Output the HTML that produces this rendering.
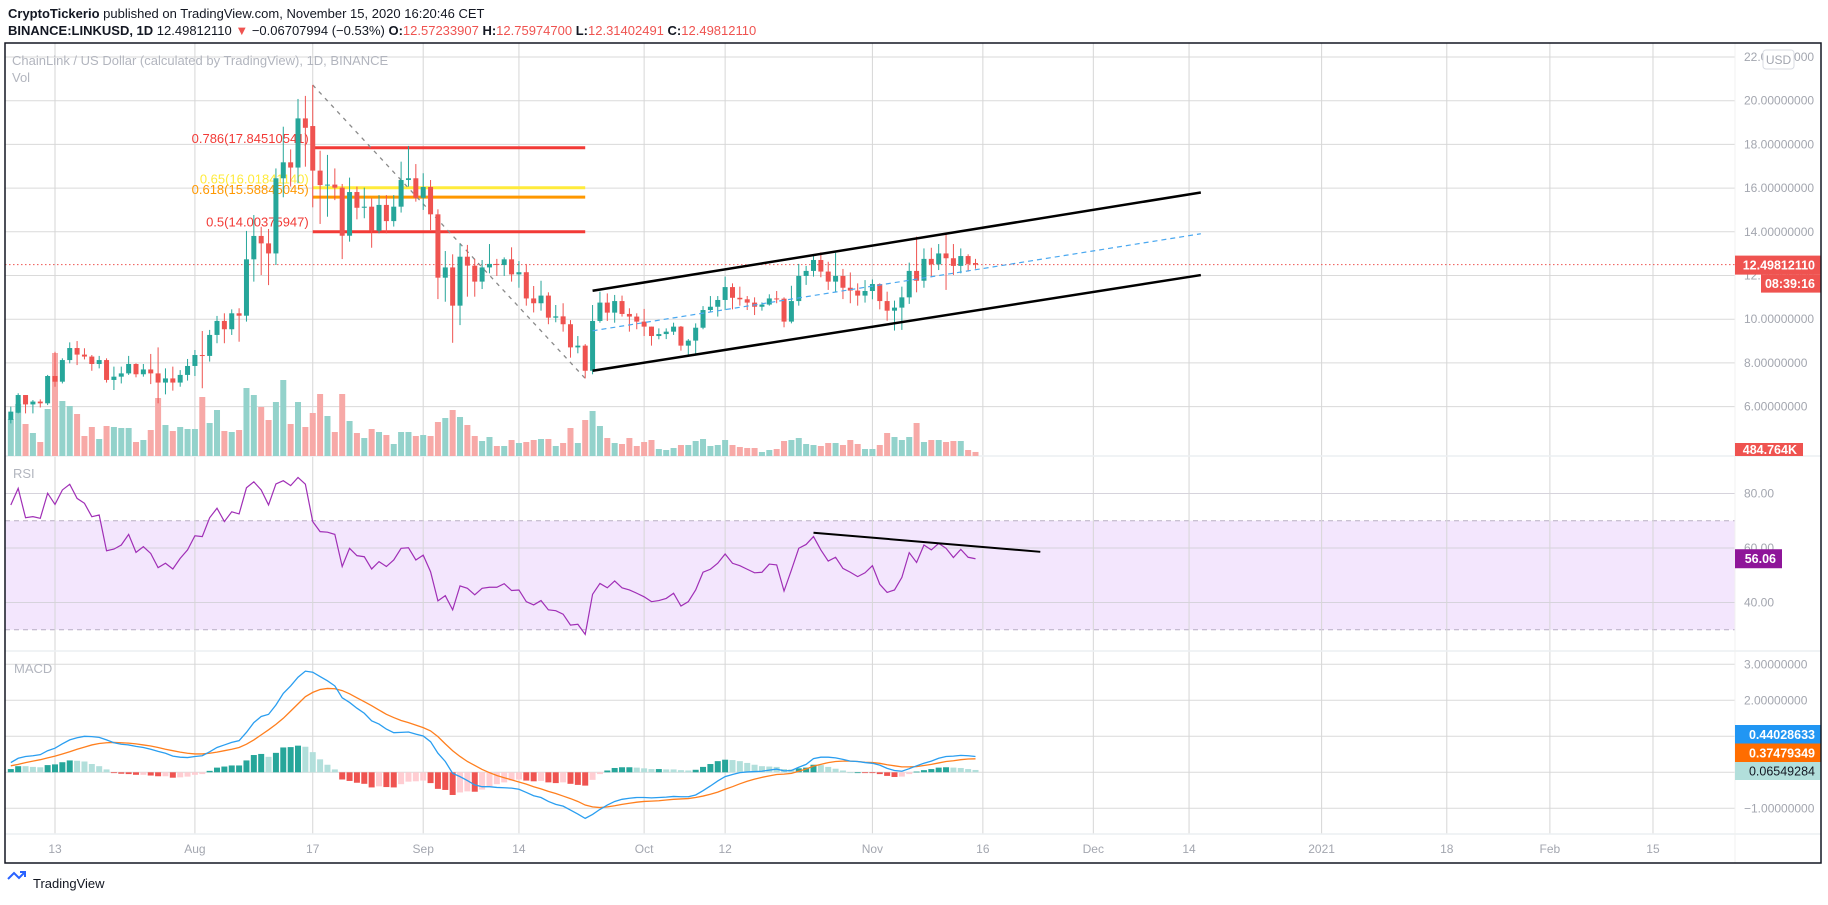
<!DOCTYPE html>
<html><head><meta charset="utf-8">
<style>
html,body{margin:0;padding:0;background:#fff;}
body{width:1828px;height:900px;overflow:hidden;font-family:"Liberation Sans",sans-serif;}
svg text{font-family:"Liberation Sans",sans-serif;}
</style></head>
<body>
<svg id="chart" width="1828" height="900" viewBox="0 0 1828 900" xmlns="http://www.w3.org/2000/svg">
<rect x="0" y="0" width="1828" height="900" fill="#fff"/>
<text x="8" y="18" font-size="13" fill="#131722"><tspan font-weight="bold">CryptoTickerio</tspan> published on TradingView.com, November 15, 2020 16:20:46 CET</text>
<text x="8" y="35" font-size="13" fill="#131722"><tspan font-weight="bold">BINANCE:LINKUSD, 1D</tspan> 12.49812110 <tspan fill="#ef5350">▼</tspan> −0.06707994 (−0.53%) <tspan font-weight="bold">O:</tspan><tspan fill="#ef5350">12.57233907</tspan> <tspan font-weight="bold">H:</tspan><tspan fill="#ef5350">12.75974700</tspan> <tspan font-weight="bold">L:</tspan><tspan fill="#ef5350">12.31402491</tspan> <tspan font-weight="bold">C:</tspan><tspan fill="#ef5350">12.49812110</tspan></text>
<g id="grid"></g>
<g id="layers"></g>
<rect x="5" y="43" width="1816" height="820" fill="none" stroke="#131722" stroke-width="1.5"/>
</svg>
<script>
// ---- data ----
const startDay = -6; // first candle = Jul 7 (day 0 = Jul 13)
const opens = [5.39,5.72,6.53,6.10,6.23,6.15,7.40,7.14,8.13,8.68,8.38,8.29,7.95,8.13,7.22,7.37,7.52,7.95,7.48,7.70,7.52,7.10,7.29,7.10,7.45,7.86,8.36,8.32,9.28,9.92,9.54,10.27,10.16,12.74,13.81,13.47,13.01,16.45,17.18,16.94,19.19,18.84,16.80,16.14,16.16,16.02,13.82,15.82,15.10,15.15,14.05,15.23,14.49,15.15,16.37,16.45,15.56,16.05,14.80,11.90,12.37,10.62,12.86,12.45,11.72,12.37,12.53,12.48,12.74,12.05,12.15,10.95,10.73,11.08,10.07,10.13,9.77,8.71,8.79,7.64,9.92,10.76,10.30,10.83,10.24,10.12,9.89,9.66,9.23,9.32,9.43,9.66,8.79,9.02,9.61,10.42,10.57,10.88,11.47,10.98,10.91,10.76,10.57,10.67,10.95,10.94,9.89,10.83,11.98,12.21,12.71,12.18,11.72,11.98,11.44,11.31,11.08,11.29,11.61,10.83,10.39,10.53,11.00,12.21,11.76,12.76,12.51,13.01,12.79,12.44,12.89,12.57];
const closes = [5.77,6.53,6.10,6.23,6.15,7.40,7.14,8.13,8.68,8.38,8.29,7.95,8.13,7.22,7.37,7.52,7.95,7.48,7.70,7.52,7.10,7.29,7.10,7.45,7.86,8.36,8.32,9.28,9.92,9.54,10.27,10.16,12.74,13.81,13.47,13.01,16.45,17.18,16.94,19.19,18.76,16.80,16.14,16.16,16.02,13.82,15.82,15.10,15.15,14.05,15.23,14.49,15.15,16.37,16.45,15.56,16.05,14.80,11.90,12.37,10.62,12.86,12.45,11.72,12.37,12.53,12.48,12.74,12.05,12.15,10.95,10.73,11.08,10.07,10.13,9.77,8.71,8.79,7.64,9.92,10.76,10.30,10.83,10.24,10.12,9.89,9.66,9.23,9.32,9.43,9.66,8.79,9.02,9.61,10.42,10.57,10.88,11.47,10.98,10.91,10.76,10.57,10.67,10.95,10.94,9.89,10.83,11.98,12.21,12.71,12.18,11.72,11.98,11.44,11.31,11.08,11.29,11.61,10.83,10.39,10.53,11.00,12.21,11.76,12.76,12.51,13.01,12.79,12.44,12.89,12.53,12.50];
const highs = [6.00,6.61,6.53,6.30,6.33,7.45,8.51,8.21,8.94,9.00,8.67,8.36,8.32,8.21,7.83,7.83,8.32,7.98,7.95,8.41,8.71,7.75,7.83,7.67,8.18,8.59,9.46,9.51,10.15,10.27,10.45,10.50,14.04,14.77,14.23,14.13,16.90,18.81,17.77,20.08,20.22,20.72,17.71,17.52,16.90,16.19,16.48,16.07,16.02,15.53,15.68,15.68,15.68,17.21,17.93,17.10,16.68,16.37,15.03,13.12,12.97,13.44,13.40,12.76,12.71,13.44,12.76,12.83,13.29,12.66,12.53,11.52,11.76,11.23,10.65,10.73,9.96,9.23,8.86,10.65,11.26,11.18,11.11,11.08,10.50,10.27,10.47,9.66,9.58,9.58,9.84,9.69,9.09,9.81,10.60,11.06,11.06,11.95,11.64,11.49,11.06,11.00,10.77,11.14,11.29,11.00,11.53,12.53,12.44,12.98,13.06,12.63,13.04,12.30,12.14,11.64,11.79,11.82,11.64,11.26,10.85,11.49,12.59,13.78,13.24,13.27,13.44,13.93,13.44,13.24,12.97,12.76];
const lows = [5.23,5.69,5.69,5.69,5.96,6.07,6.91,7.06,7.98,7.90,8.16,7.64,7.75,7.10,6.76,7.06,7.45,7.34,7.37,7.03,6.15,6.56,6.73,6.91,7.19,7.40,6.84,8.06,8.90,8.90,9.28,8.97,9.89,11.72,12.02,11.56,12.48,15.58,16.07,16.22,16.98,15.12,14.36,14.69,15.45,12.75,13.55,14.57,14.62,13.27,13.93,13.93,14.24,14.88,16.07,15.38,15.00,14.08,10.92,10.80,8.92,9.73,11.03,11.03,11.38,12.10,11.98,11.98,11.72,11.44,10.62,10.31,10.39,9.77,9.86,9.43,8.24,8.44,7.29,7.48,9.84,9.92,9.84,10.12,9.43,9.54,9.23,8.79,9.08,9.09,9.28,8.56,8.36,8.41,9.54,10.34,10.12,10.42,10.45,10.62,10.42,10.19,10.39,10.62,10.73,9.63,9.81,10.62,11.57,11.95,11.92,11.34,11.23,10.92,10.73,10.62,10.76,10.91,10.45,9.93,9.48,9.51,10.70,11.23,11.44,11.92,12.25,11.34,12.02,12.10,12.18,12.31];
const volumesK = [4440,6240,3840,2760,1680,5640,12360,6600,6000,5040,2400,3480,2040,3600,3480,3360,3360,1680,1920,3120,6960,3720,3000,3480,3240,3240,7080,3960,5520,3000,2880,3120,8160,7320,5880,4320,6480,9120,3840,6480,3480,5160,7440,4800,2880,7440,4200,2760,2160,3240,2880,2520,1440,2880,2880,2400,2520,2400,4080,4560,5520,4680,3720,2400,1800,2280,1200,1200,1920,1560,1680,1920,2040,2040,1200,1560,3360,1560,4320,5400,3600,2160,1560,1440,2160,1200,1680,1920,840,720,960,1320,1320,1800,2040,1200,1320,1920,1320,1080,960,960,480,720,840,1800,1920,2160,1440,1320,1200,1560,1560,1320,1920,1440,840,840,1320,2760,2280,1920,2280,3960,1680,1920,1920,1680,1800,1800,720,485];
const rsiValues = [75.8,81.9,71.1,71.5,70.9,80.1,76.0,81.3,83.4,78.2,76.4,71.5,72.1,59.0,59.6,61.1,65.0,58.4,60.5,58.0,52.8,54.4,52.3,56.2,59.3,64.5,64.2,71.1,74.6,69.7,73.3,72.5,82.1,84.3,81.3,75.8,83.5,84.7,82.9,85.9,83.4,69.7,66.0,65.8,65.0,53.2,59.9,57.2,56.8,52.3,55.0,53.2,55.6,59.9,60.1,55.6,57.4,51.3,40.6,42.5,37.3,46.1,45.2,42.8,45.2,45.6,45.6,46.9,44.4,44.6,40.3,39.1,40.7,37.3,37.0,35.7,31.7,32.0,28.3,43.0,47.0,45.4,47.9,45.4,44.6,43.4,42.1,40.3,40.7,41.5,43.4,38.7,40.3,44.6,51.1,52.2,54.4,57.8,54.4,53.5,52.2,50.9,51.1,54.1,53.8,44.2,51.9,59.9,61.3,64.2,59.3,55.2,56.6,52.5,51.1,49.5,50.9,53.5,46.7,43.7,44.6,49.2,58.3,54.7,61.1,59.3,61.7,59.9,56.5,59.5,56.6,56.06];
const macdValues = [0.27,0.39,0.44,0.46,0.49,0.60,0.67,0.79,0.90,0.96,1.00,0.99,0.97,0.90,0.82,0.78,0.76,0.72,0.69,0.64,0.58,0.53,0.45,0.42,0.41,0.44,0.46,0.57,0.69,0.76,0.83,0.88,1.11,1.38,1.55,1.61,1.87,2.19,2.40,2.64,2.81,2.78,2.66,2.54,2.40,2.07,1.94,1.78,1.64,1.43,1.34,1.20,1.10,1.11,1.12,1.06,1.01,0.85,0.53,0.30,-0.03,-0.12,-0.23,-0.35,-0.40,-0.40,-0.42,-0.43,-0.44,-0.47,-0.56,-0.65,-0.70,-0.81,-0.89,-0.94,-1.05,-1.16,-1.28,-1.17,-1.03,-0.91,-0.81,-0.75,-0.72,-0.70,-0.70,-0.71,-0.70,-0.69,-0.67,-0.68,-0.68,-0.63,-0.51,-0.38,-0.24,-0.12,-0.06,-0.01,0.01,0.02,0.03,0.06,0.09,0.04,0.05,0.14,0.22,0.38,0.42,0.42,0.40,0.36,0.31,0.30,0.27,0.25,0.20,0.11,0.05,0.03,0.10,0.18,0.25,0.31,0.39,0.44,0.45,0.47,0.46,0.44];
const signalValues = [0.18,0.22,0.27,0.31,0.35,0.40,0.45,0.51,0.57,0.64,0.70,0.76,0.80,0.82,0.83,0.82,0.81,0.79,0.76,0.73,0.69,0.64,0.60,0.56,0.53,0.51,0.51,0.53,0.56,0.60,0.64,0.69,0.78,0.90,1.04,1.18,1.33,1.50,1.70,1.90,2.10,2.22,2.30,2.33,2.32,2.27,2.18,2.07,1.96,1.85,1.73,1.61,1.52,1.44,1.38,1.31,1.24,1.15,0.99,0.79,0.60,0.44,0.30,0.19,0.08,-0.01,-0.09,-0.15,-0.21,-0.27,-0.33,-0.40,-0.46,-0.53,-0.59,-0.66,-0.73,-0.81,-0.91,-0.96,-0.98,-0.96,-0.93,-0.89,-0.86,-0.83,-0.81,-0.80,-0.79,-0.77,-0.75,-0.74,-0.73,-0.70,-0.66,-0.61,-0.55,-0.47,-0.40,-0.32,-0.25,-0.19,-0.14,-0.10,-0.06,-0.05,-0.03,0.03,0.09,0.17,0.22,0.27,0.30,0.31,0.31,0.30,0.28,0.27,0.25,0.21,0.18,0.15,0.15,0.16,0.19,0.22,0.26,0.30,0.32,0.35,0.37,0.375];
const priceTicks = [22,20,18,16,14,12,10,8,6];
const rsiTicks = [80,60,40];
const macdTicks = [3,2,1,0,-1];
const timeLabels = ['13','Aug','17','Sep','14','Oct','12','Nov','16','Dec','14','2021','18','Feb','15'];
const timeDays = [0,19,35,50,63,80,91,111,126,141,154,172,189,203,217];
const fibLevels = [0.786,0.65,0.618,0.5];
const fibPrices = [17.8451054,16.0184114,15.58845045,14.00375947];
const fibLabels = ['0.786(17.84510541)','0.65(16.01841140)','0.618(15.58845045)','0.5(14.00375947)'];
const fibColors = ['#f23a36','#ffeb3b','#ff9800','#f23a36'];
const fibStartDay = 35, fibEndDay = 72;
const channelDays = [73,155.6];
const channelUpper = [11.30,15.80];
const channelLower = [7.64,12.02];
const channelMid = [9.47,13.91];
const fibDiagDays = [35,72];
const fibDiagPrices = [20.72,7.29];
const rsiTrendDays = [103,133.8];
const rsiTrendValues = [65.6,58.6];
const lastPrice = 12.49812110;

// ---- scales ----
const PX_DAY = 7.364, X0 = 55;
function xDay(d){ return X0 + d*PX_DAY; }
function xIdx(i){ return xDay(startDay + i); }
function yP(p){ return 57 + (22-p)*21.85; }
function yR(r){ return 548 + (60-r)*2.725; }
function yM(m){ return 772.3 - m*36; }
function yV(v){ return 456 - v/120; }
const PLOT_L=5, PLOT_R=1735;
const NS='http://www.w3.org/2000/svg';
const grid=document.getElementById('grid');
const layers=document.getElementById('layers');
function mk(tag, attrs, parent){
  const e=document.createElementNS(NS,tag);
  for(const k in attrs) e.setAttribute(k, attrs[k]);
  (parent||layers).appendChild(e); return e;
}
function txt(s, attrs, parent){ const e=mk('text',attrs,parent); e.textContent=s; return e; }

// ---- grid ----
priceTicks.forEach(t=>{
  const l=mk('line',{x1:PLOT_L,x2:PLOT_R,y1:yP(t),y2:yP(t),stroke:'#dadada','stroke-width':1},grid);
  
  
  const tx=txt(t.toFixed(8),{x:1744,y:yP(t)+4,'font-size':12,fill:'#a3a6af'},grid);
  
  
});
// rsi band
const band=mk('rect',{x:PLOT_L,y:yR(70),width:PLOT_R-PLOT_L,height:yR(30)-yR(70),fill:'#f3e6fd'},grid);


[70,30].forEach(v=>{
  const l=mk('line',{x1:PLOT_L,x2:PLOT_R,y1:yR(v),y2:yR(v),stroke:'#b8adc4','stroke-dasharray':'5 4'},grid);
  
  
});
rsiTicks.forEach(t=>{
  const l=mk('line',{x1:PLOT_L,x2:PLOT_R,y1:yR(t),y2:yR(t),stroke:'#d6d3dc'},grid);
  
  
  const tx=txt(t.toFixed(2),{x:1744,y:yR(t)+4,'font-size':12,fill:'#a3a6af'},grid);
  
  
});
macdTicks.forEach(t=>{
  const l=mk('line',{x1:PLOT_L,x2:PLOT_R,y1:yM(t),y2:yM(t),stroke:'#dadada'},grid);
  
  
  const lab=(t<0?'−'+Math.abs(t).toFixed(8):t.toFixed(8));
  const tx=txt(lab,{x:1744,y:yM(t)+4,'font-size':12,fill:'#a3a6af'},grid);
  
  
});
timeDays.forEach((d,i)=>{
  const x=xDay(d);
  const l=mk('line',{x1:x,x2:x,y1:43,y2:834,stroke:'#d6d6d6'},grid);
  
  
  const tx=txt(timeLabels[i],{x:x,y:853,'font-size':12,fill:'#a3a6af','text-anchor':'middle'},grid);
  
  
});
// pane separators
[456,651,834].forEach(y=>{
  const l=mk('line',{x1:5,x2:1821,y1:y,y2:y,stroke:'#eceff2','stroke-width':1.5},grid);
  
  
});
const axSep=mk('line',{x1:PLOT_R,x2:PLOT_R,y1:43,y2:863,stroke:'#f0f0f0'},grid);



// ---- legends ----
const lg1=txt('ChainLink / US Dollar (calculated by TradingView), 1D, BINANCE',{x:12,y:65,'font-size':13,fill:'#b2b5be'});


const lg2=txt('Vol',{x:12,y:82,'font-size':13,fill:'#b2b5be'});


const lg3=txt('RSI',{x:13,y:478,'font-size':13,fill:'#b2b5be'});


const lg4=txt('MACD',{x:14,y:673,'font-size':13,fill:'#b2b5be'});



// ---- volume ----
volumesK.forEach((v,i)=>{
  const up=closes[i]>=opens[i];
  const x=xIdx(i);
  const r=mk('rect',{x:x-3,y:yV(v),width:6,height:456-yV(v),fill:up?'#93d2cb':'#f7a9a7'});
  
  
});

// ---- fib ----
fibPrices.forEach((p,i)=>{
  const l=mk('line',{x1:xDay(fibStartDay),x2:xDay(fibEndDay),y1:yP(p),y2:yP(p),stroke:fibColors[i],'stroke-width':3});
  
  
  const ly = fibLevels[i]===0.65 ? yP(p)-4 : (fibLevels[i]===0.618 ? yP(p)-3 : yP(p)-5);
  const t=txt(fibLabels[i],{x:xDay(fibStartDay)-4,y:ly,'font-size':13,fill:fibColors[i],'text-anchor':'end'});
  
  
});
const diag=mk('line',{x1:xDay(fibDiagDays[0]),y1:yP(fibDiagPrices[0]),x2:xDay(fibDiagDays[1]),y2:yP(fibDiagPrices[1]),stroke:'#8a8a8a','stroke-width':1.3,'stroke-dasharray':'4 5'});



// price line
const pl=mk('line',{x1:PLOT_L,x2:PLOT_R,y1:yP(lastPrice),y2:yP(lastPrice),stroke:'#ef5350','stroke-width':1,'stroke-dasharray':'1.5 2.5'});



// ---- candles ----
opens.forEach((o,i)=>{
  const c=closes[i], up=c>=o, col=up?'#26a69a':'#ef5350', x=xIdx(i);
  const w=mk('line',{x1:x,x2:x,y1:yP(highs[i]),y2:yP(lows[i]),stroke:col,'stroke-width':1});
  
  
  const top=yP(Math.max(o,c)), bot=yP(Math.min(o,c));
  const b=mk('rect',{x:x-2.5,y:top,width:5,height:Math.max(1,bot-top),fill:col});
  
  
});

// ---- channel ----
const mid=mk('line',{x1:xDay(channelDays[0]),y1:yP(channelMid[0]),x2:xDay(channelDays[1]),y2:yP(channelMid[1]),stroke:'#4aa8f0','stroke-width':1.2,'stroke-dasharray':'5 4'});


const up1=mk('line',{x1:xDay(channelDays[0]),y1:yP(channelUpper[0]),x2:xDay(channelDays[1]),y2:yP(channelUpper[1]),stroke:'#000','stroke-width':2.5});


const lo1=mk('line',{x1:xDay(channelDays[0]),y1:yP(channelLower[0]),x2:xDay(channelDays[1]),y2:yP(channelLower[1]),stroke:'#000','stroke-width':2.5});



// ---- RSI ----
const rp=mk('polyline',{points:rsiValues.map((v,i)=>xIdx(i)+','+yR(v)).join(' '),fill:'none',stroke:'#a02fb6','stroke-width':1.2});


const rt=mk('line',{x1:xDay(rsiTrendDays[0]),y1:yR(rsiTrendValues[0]),x2:xDay(rsiTrendDays[1]),y2:yR(rsiTrendValues[1]),stroke:'#000','stroke-width':2});



// ---- MACD ----
macdValues.forEach((m,i)=>{
  const h=m-signalValues[i];
  const prev=i>0?macdValues[i-1]-signalValues[i-1]:h;
  let col;
  if(h>=0) col = h>=prev?'#26a69a':'#b2dfdb'; else col = h<prev?'#ef5350':'#ffcdd2';
  const y1=yM(Math.max(h,0)), y2=yM(Math.min(h,0));
  const r=mk('rect',{x:xIdx(i)-3,y:y1,width:6,height:Math.max(0.8,y2-y1),fill:col});
  
  
});
const sl=mk('polyline',{points:signalValues.map((v,i)=>xIdx(i)+','+yM(v)).join(' '),fill:'none',stroke:'#ff7f1e','stroke-width':1.3});


const ml=mk('polyline',{points:macdValues.map((v,i)=>xIdx(i)+','+yM(v)).join(' '),fill:'none',stroke:'#2a9ef0','stroke-width':1.3});



// ---- axis badges ----
function badge(name,x,y,w,h,bg,fg,label){
  const g=mk('g',{});
  
  
  mk('rect',{x:x,y:y,width:w,height:h,fill:bg},g);
  txt(label,{x:x+w-6,y:y+h/2+4.5,'font-size':12.5,fill:fg,'text-anchor':'end','font-weight':fg==='#fff'?'bold':'normal'},g);
}
badge('last-price-badge',1735,yP(lastPrice)-9,86,19,'#ef5350','#fff','12.49812110');
badge('countdown-badge',1761,yP(lastPrice)+10,60,18,'#ef5350','#fff','08:39:16');
badge('volume-badge',1735,443,68,13,'#ef5350','#fff','484.764K');
badge('rsi-value-badge',1735,yR(56.06)-9.5,47,19,'#8e1599','#fff','56.06');
badge('macd-value-badge',1735,725,86,18.5,'#2196f3','#fff','0.44028633');
badge('signal-value-badge',1735,743.5,86,18.5,'#ff6d00','#fff','0.37479349');
badge('histogram-value-badge',1735,762,86,18,'#b2dfdb','#131722','0.06549284');
const usd=mk('rect',{x:1763,y:50,width:31,height:19,rx:3,fill:'#fff',stroke:'#d8dbe2'});


const ut=txt('USD',{x:1778.5,y:64,'font-size':12,fill:'#a3a6af','text-anchor':'middle'});



// ---- logo ----
const logo=mk('g',{});


mk('path',{d:'M8 879 l6 -6 l5 5 l6 -6 M20 872 h5 v5',fill:'none',stroke:'#2962ff','stroke-width':2},logo);
txt('TradingView',{x:33,y:888,'font-size':13,fill:'#131722'},logo);
</script>
</body></html>
